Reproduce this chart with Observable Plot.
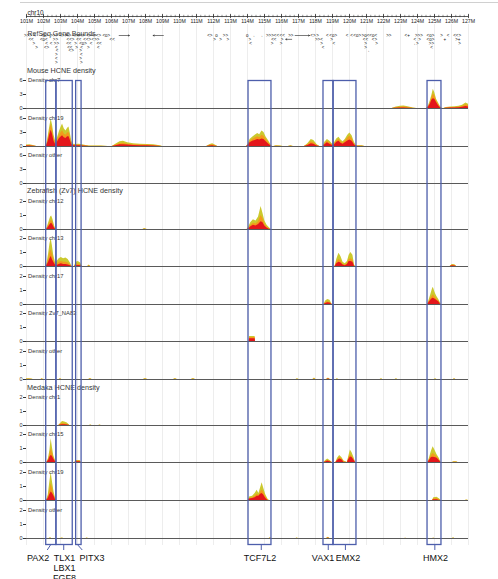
<!DOCTYPE html>
<html><head><meta charset="utf-8">
<script src="https://cdn.jsdelivr.net/npm/d3@7"></script>
<script src="https://cdn.jsdelivr.net/npm/@observablehq/plot@0.6"></script>
<style>
body{margin:0;background:#fff;font-family:"Liberation Sans",Arial,sans-serif;}
#root{position:relative;width:498px;height:579px;overflow:hidden;background:#fff;}
#root svg{position:absolute;left:0;}
.ttl{position:absolute;left:27px;font-size:7.2px;line-height:8px;color:#333;white-space:nowrap;}
.border{position:absolute;left:20px;top:2px;width:478px;height:1px;background:#d0d0d0;}
</style></head><body><div id="root"><div class="border"></div></div>
<script>
// ---------- data ----------
const mbTicks = d3.range(101, 128);            // 101M ... 127M
const minorTicks = d3.range(101, 127.01, 0.25);

// RefSeq gene glyph clusters: [position Mb, row, glyphs]
const genes = [
 [101.2,0,">>> <"],[102.06,0,"<o>"],[102.9,0,">>> <>>"],[103.75,0,"<> <>>"],[104.55,0,"<<> <><>"],[105.5,0,"<> <o>"],
 [111.78,0,"<>"],[112.18,0,"o"],[112.7,0,">>"],[113.98,0,"o"],[114.33,0,"→"],[114.8,0,"→"],[115.47,0,">>><<"],[116.04,0,"<<"],[116.55,0,">>"],[117.85,0,"<>"],[118.12,0,">"],[118.69,0,"<"],[119.04,0,"<o>"],[119.86,0,"<"],[120.12,0,"<"],[120.45,0,"<o>"],[120.94,0,">o<"],[121.39,0,"<o<"],[122.31,0,">>"],[123.39,0,"<+"],[124.08,0,">>>"],[124.76,0,"<o>"],[125.41,0,">"],[125.8,0,"<"],[126.33,0,"<<>"],
 [101.27,1,"<<"],[102.02,1,"<o<"],[102.7,1,">>"],[103.59,1,"<<>"],[104.08,1,"<<"],[104.57,1,"<<>"],[105.06,1,"<>>"],[106.04,1,"<<"],[112.06,1,">"],[112.41,1,">"],[112.84,1,">"],[114.14,1,">"],
 [115.55,1,"<<"],[116.04,1,">"],[118.2,1,">><"],[118.94,1,">"],[120.94,1,"<<"],[121.47,1,"<>"],[123.84,1,"<"],[124.12,1,">"],[124.76,1,"<o>"],[125.6,1,"+"],[126.37,1,">+"],
 [101.43,2,">"],[102.18,2,"<"],[102.45,2,"<"],[102.76,2,">>"],[103.49,2,"<<"],[103.88,2,">"],[104.33,2,"<o>"],[104.8,2,"<"],[105.27,2,"<<"],[114.18,2,"<"],[115.45,2,">"],[115.98,2,">"],[118.35,2,">"],[119.08,2,"<"],[120.94,2,">"],[121.59,2,">"],[123.85,2,"→>"],[124.82,2,">>"],[126.47,2,">"],
 [101.59,3,">"],[102.18,3,"<>"],[102.76,3,"<"],[103.55,3,"<<"],[103.94,3,">"],[104.24,3,"<"],[104.63,3,">"],[105.22,3,"<"],[118.45,3,"<"],[120.94,3,">"],[124.82,3,"<"],
 [102.8,4,"<"],[103.63,4,"<>"],[104.18,4,">"],[121.08,4,"→"],
 [102.76,5,">"],[104.22,5,"<"],
 [102.76,6,"<"],[104.18,6,">"],
 [102.76,7,">"],[104.22,7,">"]
];
// long gene arrows: [from Mb, to Mb, row]
const geneArrows = [[106.45,107.05,0],[109.05,108.45,0],[116.8,117.65,0],[116.6,116.25,1]];

// HCNE density series: [position Mb, all, mid, high]
const mouseChr7 = [
 [122.5,0,0,0],[122.75,0.3,0.15,0.05],[123.0,0.5,0.25,0.1],[123.2,0.55,0.3,0.1],[123.45,0.35,0.2,0.05],[123.75,0.1,0.05,0],[123.95,0,0,0],
 [124.55,0,0,0],[124.65,0.6,0.4,0.3],[124.75,1.6,1.2,0.9],[124.85,2.9,2.3,1.8],[124.93,4.1,3.1,2.1],[125.02,3.3,2.7,2.0],[125.12,2.0,1.6,1.3],[125.22,1.3,1.0,0.7],[125.32,0.6,0.4,0.2],[125.42,0.1,0.05,0],[125.5,0,0,0],
 [125.55,0,0,0],[125.7,0.2,0.1,0.05],[125.95,0.3,0.2,0.1],[126.2,0.35,0.2,0.1],[126.45,0.5,0.3,0.15],[126.65,0.7,0.45,0.25],[126.85,1.2,0.8,0.45],[127,0.9,0.6,0.3]
];
const mouseChr19 = [
 [101,0.3,0.2,0.1],[101.2,0.35,0.2,0.1],[101.4,0.2,0.1,0.05],[101.6,0,0,0],
 [102.12,0,0,0],[102.2,0.6,0.4,0.3],[102.28,2.2,1.6,1.1],[102.36,4.0,3.2,2.4],[102.45,5.9,4.7,3.5],[102.53,4.6,3.6,2.6],[102.62,2.4,1.7,1.1],[102.72,1.0,0.7,0.4],
 [102.82,1.8,1.3,0.9],[102.92,3.0,2.2,1.6],[103.02,4.0,2.9,2.0],[103.12,4.8,3.4,2.3],[103.22,3.8,2.7,1.9],[103.32,3.3,2.4,1.7],[103.42,3.9,2.9,2.1],[103.5,4.2,3.0,2.1],[103.58,2.8,1.9,1.3],[103.66,1.2,0.8,0.5],[103.74,0.5,0.3,0.2],
 [103.9,0.45,0.3,0.15],[104.1,0.5,0.3,0.15],[104.3,0.35,0.2,0.1],[104.5,0.2,0.1,0.05],[104.7,0.1,0.05,0],[105.0,0.12,0.05,0],[105.4,0.1,0.05,0],[105.8,0,0,0],
 [106.05,0,0,0],[106.25,0.5,0.3,0.15],[106.5,1.0,0.6,0.35],[106.7,1.1,0.7,0.4],[106.95,0.8,0.5,0.3],[107.3,0.6,0.4,0.2],[107.7,0.5,0.3,0.15],[108.1,0.45,0.3,0.15],[108.5,0.35,0.2,0.1],[108.85,0.15,0.1,0],[109.0,0,0,0],
 [111.6,0,0,0],[111.8,0.45,0.25,0.1],[111.95,0.6,0.35,0.15],[112.1,0.3,0.15,0.05],[112.25,0,0,0],
 [113.95,0,0,0],[114.05,0.6,0.4,0.3],[114.15,1.5,1.1,0.8],[114.3,2.0,1.5,1.1],[114.45,2.4,1.8,1.3],[114.6,2.8,2.1,1.5],[114.72,2.5,1.9,1.4],[114.85,3.3,2.4,1.6],[114.97,3.0,2.2,1.5],[115.1,2.0,1.5,1.0],[115.25,1.2,0.8,0.5],[115.38,0.3,0.2,0.1],[115.45,0,0,0],
 [115.55,0,0,0],[115.7,0.15,0.1,0],[115.95,0.12,0.05,0],[116.1,0,0,0],
 [116.4,0,0,0],[116.55,0.15,0.1,0],[116.7,0,0,0],
 [117.35,0,0,0],[117.55,0.6,0.35,0.2],[117.75,1.5,1.0,0.6],[117.9,1.3,0.8,0.5],[118.1,0.4,0.2,0.1],[118.25,0,0,0],
 [118.45,0,0,0],[118.55,0.9,0.6,0.4],[118.7,1.5,1.1,0.8],[118.85,1.1,0.8,0.5],[119.0,0.5,0.3,0.2],
 [119.12,0.8,0.6,0.4],[119.25,1.6,1.2,0.9],[119.38,2.0,1.5,1.1],[119.5,1.4,1.0,0.7],[119.62,1.0,0.7,0.5],[119.75,1.5,1.1,0.8],[119.9,2.4,1.8,1.2],[120.02,2.9,2.2,1.4],[120.15,2.3,1.7,1.1],[120.3,0.8,0.5,0.3],[120.4,0.2,0.1,0.05],[120.5,0.15,0.1,0],[120.75,0.15,0.1,0],[120.9,0,0,0]
];
const mouseOther = [];
const zebraChr12 = [
 [102.18,0,0,0],[102.26,0.3,0.2,0.1],[102.34,0.6,0.4,0.25],[102.42,0.9,0.6,0.4],[102.48,0.96,0.65,0.45],[102.56,0.7,0.5,0.3],[102.64,0.3,0.2,0.1],[102.72,0,0,0],
 [107.85,0,0,0],[107.95,0.08,0.04,0],[108.1,0,0,0],
 [113.98,0,0,0],[114.08,0.2,0.1,0.05],[114.2,0.5,0.3,0.2],[114.35,0.7,0.45,0.3],[114.5,0.6,0.4,0.25],[114.65,0.9,0.55,0.35],[114.8,1.65,1.0,0.55],[114.9,1.2,0.8,0.5],[115.02,0.6,0.4,0.25],[115.15,0.3,0.15,0.1],[115.3,0.1,0.05,0],[115.4,0,0,0]
];
const zebraChr13 = [
 [102.15,0,0,0],[102.22,0.3,0.15,0.1],[102.3,0.9,0.5,0.3],[102.38,1.6,1.0,0.55],[102.45,2.0,1.2,0.72],[102.52,1.5,0.9,0.5],[102.6,0.8,0.5,0.3],[102.7,0.3,0.15,0.1],
 [102.8,0.35,0.15,0.08],[102.92,0.55,0.3,0.15],[103.05,0.65,0.35,0.2],[103.18,0.55,0.3,0.15],[103.32,0.6,0.3,0.15],[103.45,0.5,0.25,0.1],[103.58,0.25,0.1,0.05],[103.68,0,0,0],
 [103.82,0,0,0],[103.92,0.3,0.15,0.05],[104.05,0.35,0.2,0.08],[104.18,0.25,0.1,0.05],[104.28,0,0,0],
 [104.6,0,0,0],[104.68,0.1,0.05,0],[104.78,0,0,0],
 [119.15,0,0,0],[119.25,0.5,0.3,0.2],[119.38,0.95,0.5,0.3],[119.5,0.7,0.4,0.25],[119.62,0.3,0.15,0.1],[119.75,0.2,0.1,0.05],[119.88,0.35,0.2,0.15],[119.98,0.8,0.5,0.35],[120.08,1.0,0.55,0.35],[120.2,0.8,0.45,0.3],[120.3,0.1,0.05,0],[120.35,0,0,0],
 [125.92,0,0,0],[126.05,0.15,0.1,0.05],[126.2,0.12,0.08,0.03],[126.3,0,0,0]
];
const zebraChr17 = [
 [118.5,0,0,0],[118.6,0.25,0.15,0.08],[118.72,0.35,0.2,0.12],[118.85,0.3,0.15,0.1],[118.98,0,0,0],
 [124.6,0,0,0],[124.68,0.3,0.2,0.15],[124.78,0.7,0.45,0.3],[124.88,1.1,0.6,0.42],[124.93,1.24,0.7,0.45],[125.02,0.9,0.55,0.4],[125.12,0.6,0.4,0.3],[125.25,0.35,0.25,0.2],[125.35,0.1,0.05,0],[125.4,0,0,0]
];
const zebraNA83 = [[114.1,0,0,0],[114.12,0.36,0.28,0.2],[114.45,0.36,0.28,0.2],[114.47,0,0,0]];
const zebraOther = [
 [101.0,0.05,0.02,0],[101.15,0.06,0.03,0],[101.3,0.04,0.02,0],[101.4,0,0,0],
 [101.85,0,0,0],[101.92,0.06,0.03,0],[102.0,0,0,0],
 [102.92,0,0,0],[103.0,0.06,0.03,0],[103.08,0,0,0],
 [104.66,0,0,0],[104.76,0.08,0.04,0],[104.86,0,0,0],
 [107.88,0,0,0],[108.0,0.08,0.04,0],[108.12,0,0,0],
 [109.65,0,0,0],[109.76,0.08,0.04,0],[109.87,0,0,0],
 [110.7,0,0,0],[110.82,0.08,0.04,0],[110.94,0,0,0],
 [116.85,0,0,0],[116.94,0.05,0.02,0],[117.03,0,0,0],
 [117.85,0,0,0],[117.94,0.1,0.05,0],[118.03,0,0,0],
 [118.65,0,0,0],[118.76,0.1,0.06,0.03],[118.87,0,0,0],
 [119.22,0,0,0],[119.29,0.05,0.02,0],[119.36,0,0,0],
 [121.8,0,0,0],[121.88,0.05,0.02,0],[121.96,0,0,0],
 [122.68,0,0,0],[122.76,0.05,0.02,0],[122.84,0,0,0],
 [124.98,0,0,0],[125.06,0.05,0.02,0],[125.14,0,0,0],
 [126.1,0,0,0],[126.18,0.06,0.03,0],[126.26,0,0,0]
];
const medakaChr1 = [
 [102.9,0,0,0],[103.0,0.15,0.08,0.03],[103.12,0.28,0.15,0.06],[103.25,0.25,0.12,0.05],[103.4,0.18,0.08,0.03],[103.55,0,0,0],
 [104.7,0,0,0],[104.78,0.04,0.02,0],[104.86,0,0,0],[105.25,0,0,0],[105.32,0.03,0.01,0],[105.4,0,0,0]
];
const medakaChr15 = [
 [102.2,0,0,0],[102.3,0.3,0.2,0.15],[102.38,0.9,0.6,0.4],[102.45,1.7,1.0,0.5],[102.52,1.1,0.7,0.45],[102.6,0.5,0.35,0.25],[102.7,0.15,0.1,0.05],[102.76,0,0,0],
 [103.85,0,0,0],[103.92,0.15,0.1,0.05],[104.15,0.15,0.1,0.05],[104.22,0,0,0],
 [118.5,0,0,0],[118.6,0.15,0.08,0.04],[118.72,0.25,0.15,0.1],[118.85,0.15,0.1,0.05],[118.98,0,0,0],
 [119.2,0,0,0],[119.3,0.3,0.2,0.15],[119.42,0.5,0.35,0.25],[119.55,0.35,0.25,0.2],[119.68,0.1,0.05,0],[119.88,0,0,0],[119.95,0.4,0.3,0.2],[120.05,0.9,0.55,0.4],[120.15,0.7,0.45,0.35],[120.28,0.3,0.2,0.15],[120.35,0,0,0],
 [124.62,0,0,0],[124.7,0.3,0.2,0.15],[124.82,0.8,0.5,0.35],[124.92,1.13,0.65,0.38],[125.02,0.9,0.55,0.35],[125.15,0.55,0.4,0.3],[125.28,0.3,0.2,0.15],[125.38,0,0,0],
 [126.05,0,0,0],[126.15,0.06,0.03,0],[126.3,0.06,0.03,0],[126.38,0,0,0]
];
const medakaChr19 = [
 [102.18,0,0,0],[102.28,0.4,0.25,0.15],[102.36,1.2,0.7,0.4],[102.45,2.0,1.2,0.6],[102.53,1.3,0.8,0.5],[102.62,0.6,0.4,0.3],[102.72,0.1,0.05,0],[102.78,0,0,0],
 [114.05,0,0,0],[114.12,0.25,0.15,0.1],[114.3,0.3,0.2,0.15],[114.45,0.5,0.3,0.2],[114.57,0.73,0.45,0.3],[114.67,0.5,0.35,0.3],[114.77,0.9,0.6,0.45],[114.86,1.27,0.75,0.5],[114.95,0.9,0.6,0.4],[115.08,0.4,0.25,0.15],[115.2,0.1,0.05,0],[115.28,0,0,0],
 [124.88,0,0,0],[124.96,0.2,0.1,0.05],[125.15,0.24,0.12,0.06],[125.3,0.1,0.05,0],[125.38,0,0,0],
 [126.8,0,0,0],[126.9,0.03,0.01,0],[127,0,0,0]
];
const medakaOther = [
 [102.33,0,0,0],[102.41,0.05,0.02,0],[102.49,0,0,0],
 [103.0,0,0,0],[103.1,0.03,0.01,0],[103.2,0,0,0],
 [104.5,0,0,0],[104.57,0.04,0.02,0],[104.64,0,0,0],
 [115.27,0,0,0],[115.35,0.06,0.03,0],[115.43,0,0,0],
 [116.85,0,0,0],[116.92,0.04,0.02,0],[116.99,0,0,0],
 [118.65,0,0,0],[118.75,0.09,0.05,0.02],[118.85,0,0,0],
 [123.25,0,0,0],[123.3,0.02,0.01,0],[123.35,0,0,0],
 [124.9,0,0,0],[124.95,0.03,0.01,0],[125.0,0,0,0],
 [126.05,0,0,0],[126.12,0.05,0.02,0],[126.19,0,0,0]
];

// highlighted loci: [start Mb, end Mb]
const boxes = [[102.16,102.76],[102.76,103.72],[103.92,104.24],[114.06,115.41],[118.47,119.06],[119.06,120.41],[124.59,125.41]];
const labelNames = ["PAX2","TLX1\nLBX1\nFGF8","PITX3","TCF7L2","VAX1","EMX2","HMX2"];
const labelTickTop = [102.41,103.19,104.02,114.81,118.75,119.76,125.02];
const labelTickBottom = [102.22,103.19,104.28,114.81,118.75,119.76,125.02];
const labelPos = [101.68,103.24,104.85,114.74,118.44,119.91,125.06];

const groups = [
  {title:"Mouse HCNE density", ymax:6, ticks:[0,3,6], titleY:71, base:108.3, step:37.35,
   panels:[["Density chr7",mouseChr7],["Density chr19",mouseChr19],["Density other",mouseOther]]},
  {title:"Zebrafish (Zv7) HCNE density", ymax:2, ticks:[0,1,2], titleY:190.7, base:229, step:37.4,
   panels:[["Density chr12",zebraChr12],["Density chr13",zebraChr13],["Density chr17",zebraChr17],["Density Zv7_NA83",zebraNA83],["Density other",zebraOther]]},
  {title:"Medaka HCNE density", ymax:2, ticks:[0,1,2], titleY:388, base:424.5, step:37.8,
   panels:[["Density chr1",medakaChr1],["Density chr15",medakaChr15],["Density chr19",medakaChr19],["Density other",medakaOther]]}
];

// ---------- drawing ----------
const FONT = '"Liberation Sans", Arial, sans-serif';
const YEL = "#cbc92e", ORA = "#f29a1c", RED = "#e4161b", BLUE = "#4d5eab";
const X = {domain:[101,127], axis:null};
const M = {width:498, marginLeft:26, marginRight:30};
const ST = {background:"transparent", overflow:"visible", fontFamily:FONT, color:"#333"};
const root = document.getElementById("root");
function place(svg, top){ svg.style.top = top + "px"; root.appendChild(svg); }

// background grid
place(Plot.plot({...M, height:579, marginTop:24, marginBottom:34, x:X, style:ST,
  marks:[Plot.ruleX(mbTicks,{stroke:"#e9e9e9", strokeWidth:0.8})]}), 0);

// chromosome axis
place(Plot.plot({...M, height:26, marginTop:13, marginBottom:10, x:X, y:{domain:[0,1], axis:null}, style:ST,
  marks:[
    Plot.ruleY([0],{stroke:"#333", strokeWidth:0.8}),
    Plot.ruleX(minorTicks,{y1:-0.4, y2:0.4, stroke:"#333", strokeWidth:0.5}),
    Plot.ruleX(mbTicks,{y1:-0.7, y2:0.7, stroke:"#333", strokeWidth:0.8}),
    Plot.text(mbTicks,{x:d=>d, y:0, dy:5, text:d=>d+"M", fontSize:5.2, fill:"#222"}),
    Plot.text(["chr10"],{frameAnchor:"top-left", dx:1, dy:-3, text:d=>d, textAnchor:"start", fontSize:6.4, fill:"#222"})
  ]}), 0);

// RefSeq gene track
place(Plot.plot({...M, height:42, marginTop:11, marginBottom:4, x:X, y:{domain:[0,7], reverse:true, axis:null}, style:ST,
  marks:[
    Plot.text(["RefSeq Gene Bounds"],{frameAnchor:"top-left", dx:1, dy:-4.3, text:d=>d, textAnchor:"start", fontSize:7, fill:"#444"}),
    Plot.text(genes,{x:d=>d[0], y:d=>d[1], text:d=>d[2], fontSize:4.5, fill:"#111"}),
    Plot.arrow(geneArrows,{x1:d=>d[0], x2:d=>d[1], y1:d=>d[2], y2:d=>d[2], stroke:"#222", strokeWidth:0.6, headLength:3})
  ]}), 24);

// density panels
for (const g of groups) {
  const t = document.createElement("div");
  t.className = "ttl"; t.textContent = g.title; t.style.top = (g.titleY - 4) + "px";
  root.appendChild(t);
  g.panels.forEach(([label, data], i) => {
    const baseline = g.base + i * g.step;
    const svg = Plot.plot({...M, height:38, marginTop:8, marginBottom:2, x:X, y:{domain:[0,g.ymax], axis:null}, style:ST,
      marks:[
        Plot.areaY(data,{x:d=>d[0], y:d=>d[1], fill:YEL}),
        Plot.areaY(data,{x:d=>d[0], y:d=>d[2], fill:ORA}),
        Plot.areaY(data,{x:d=>d[0], y:d=>d[3], fill:RED}),
        Plot.ruleY([0],{stroke:"#5a5a5a", strokeWidth:1}),
        Plot.axisY({ticks:g.ticks, tickFormat:d=>String(d), tickSize:3, tickPadding:1, fontSize:5.5}),
        Plot.text([label],{frameAnchor:"top-left", dx:1.5, dy:-3, text:d=>d, textAnchor:"start", fontSize:5.8, fill:"#333"})
      ]});
    place(svg, baseline - 36);
  });
}

// highlight boxes
place(Plot.plot({...M, height:579, marginTop:80.5, marginBottom:34.5, x:X, style:ST,
  marks:[Plot.rect(boxes,{x1:d=>d[0], x2:d=>d[1], stroke:BLUE, strokeWidth:1.3, fill:"none"})]}), 0);

// gene labels
const labelIdx = d3.range(labelNames.length);
place(Plot.plot({...M, height:35, marginTop:0.5, marginBottom:29.5, x:X, y:{domain:[0,1], axis:null}, style:ST,
  marks:[
    Plot.link(labelIdx,{x1:i=>labelTickTop[i], x2:i=>labelTickBottom[i], y1:1, y2:0, stroke:BLUE, strokeWidth:1}),
    Plot.text(labelIdx,{x:i=>labelPos[i], y:0, dy:3.8, text:i=>labelNames[i], lineAnchor:"top", lineHeight:1.11, fontSize:9, fill:"#111"})
  ]}), 544);
</script></body></html>
